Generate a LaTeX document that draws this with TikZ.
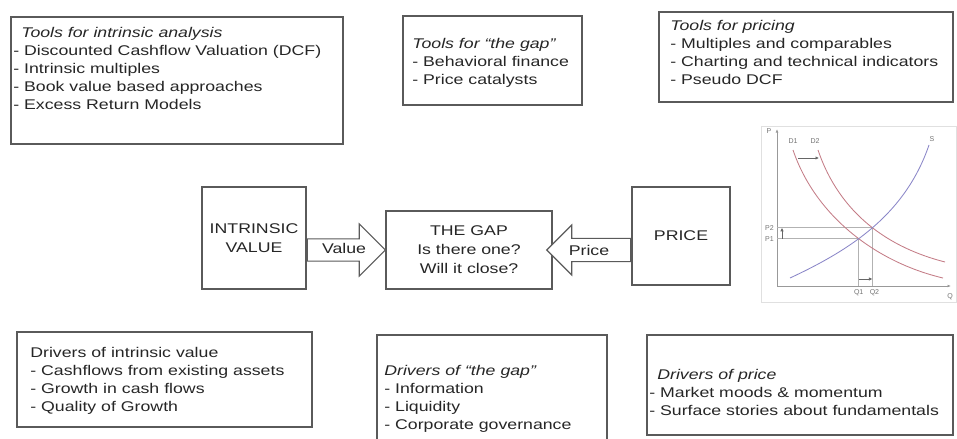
\documentclass[tikz,border=0pt]{standalone}
\usepackage{fontspec}
\setmainfont{Liberation Sans}
\usetikzlibrary{arrows.meta, shapes.arrows, intersections, calc}

\definecolor{boxline}{HTML}{5A5A5A}
\definecolor{textgray}{HTML}{262626}
\definecolor{demandred}{HTML}{C47C86}
\definecolor{supplyblue}{HTML}{8A86C8}

\tikzset{
	box/.style={shape=rectangle, draw=boxline, line width=1pt, inner sep=0pt},
	boxtext/.style={anchor=north west, align=left, inner sep=0pt, xscale=1.26, text=textgray, font=\fontsize{10}{12.8}\selectfont},
	bigtext/.style={align=center, inner sep=0pt, xscale=1.26, text=textgray, font=\fontsize{10}{13.5}\selectfont},
	blockarrow/.style={single arrow, draw=boxline, line width=0.8pt, fill=white, inner xsep=0pt, anchor=tail},
	chartlabel/.style={inner sep=0pt, text=black!55, font=\fontsize{5}{6}\selectfont},
	guide/.style={draw=black!30, line width=0.4pt},
	shiftarrow/.style={draw=black!60, line width=0.5pt, -{Latex[length=2.5pt, width=2.5pt]}},
}

\begin{document}
\begin{tikzpicture}[x=0.025cm, y=-0.025cm]
	\useasboundingbox[fill=white] (0, 0) rectangle (957, 439);
	\clip (0, 0) rectangle (957, 439);

	% Tools (top row):
	\node[box, minimum width=8.3cm, minimum height=3.175cm](ToolsIV) at (177, 80.5){};
	\node[boxtext](ToolsIVtxt) at (13, 27){\hspace*{4.5pt}\textit{Tools for intrinsic analysis}\\- Discounted Cashflow Valuation (DCF)\\- Intrinsic multiples\\- Book value based approaches\\- Excess Return Models};
	\node[box, minimum width=4.475cm, minimum height=2.225cm](ToolsGap) at (492.5, 60.5){};
	\node[boxtext](ToolsGaptxt) at (412, 38){\textit{Tools for “the gap”}\\- Behavioral finance\\- Price catalysts};
	\node[box, minimum width=7.35cm, minimum height=2.25cm](ToolsPrice) at (806, 57){};
	\node[boxtext](ToolsPricetxt) at (670, 20){\textit{Tools for pricing}\\- Multiples and comparables\\- Charting and technical indicators\\- Pseudo DCF};

	% Middle row:
	\node[box, minimum width=2.6cm, minimum height=2.55cm](IV) at (254, 238){};
	\node[bigtext](IVtxt) at (IV.center){INTRINSIC\\VALUE};
	\node[box, minimum width=4.15cm, minimum height=1.95cm](GAP) at (469, 250){};
	\node[bigtext](GAPtxt) at (GAP.center){THE GAP\\Is there one?\\Will it close?};
	\node[box, minimum width=2.45cm, minimum height=2.45cm](PRICE) at (681, 236){};
	\node[bigtext](PRICEtxt) at (PRICE.center){PRICE};
	\node[blockarrow, minimum height=1.95cm, inner ysep=0.2625cm, single arrow head extend=0.375cm](ValueArrow) at (IV.east |- GAP.west){};
	\node[blockarrow, rotate=180, minimum height=2.1cm, inner ysep=0.275cm, single arrow head extend=0.3375cm](PriceArrow) at (PRICE.west |- GAP.east){};
	\node[bigtext](ValueLbl) at (344, 248){Value};
	\node[bigtext](PriceLbl) at (589, 250){Price};

	% Supply and demand chart:
	\draw[draw=black!12, line width=0.6pt] (761, 126) rectangle (956, 302);
	\coordinate (O) at (777, 286);
	\draw[draw=black!40, line width=0.5pt, -{Latex[length=2.5pt, width=2pt]}] (O) -- (777, 129);
	\draw[draw=black!40, line width=0.5pt, -{Latex[length=2.5pt, width=2pt]}] (O) -- (951, 286);
	\node[chartlabel](Plbl) at (769, 131){P};
	\node[chartlabel](Qlbl) at (950, 297){Q};
	\path[name path=D1curve] (793, 150) .. controls (815, 215) and (875, 262) .. (943, 278);
	\path[name path=D2curve] (818, 150) .. controls (840, 215) and (890, 248) .. (945, 262);
	\path[name path=Scurve] (790, 278) .. controls (850, 250) and (905, 215) .. (929, 145);
	\path[name intersections={of=D1curve and Scurve, by=E1}];
	\path[name intersections={of=D2curve and Scurve, by=E2}];
	\draw[guide] (O |- E1) -- (E1) -- (E1 |- O);
	\draw[guide] (O |- E2) -- (E2) -- (E2 |- O);
	\draw[draw=demandred, line width=0.6pt] (793, 150) .. controls (815, 215) and (875, 262) .. (943, 278);
	\draw[draw=demandred, line width=0.6pt] (818, 150) .. controls (840, 215) and (890, 248) .. (945, 262);
	\draw[draw=supplyblue, line width=0.6pt] (790, 278) .. controls (850, 250) and (905, 215) .. (929, 145);
	\node[chartlabel](D1lbl) at (793, 141){D1};
	\node[chartlabel](D2lbl) at (815, 141){D2};
	\node[chartlabel](Slbl) at (932, 139){S};
	\node[chartlabel, anchor=east](P2lbl) at ($(O |- E2)+(-3, 0)$){P2};
	\node[chartlabel, anchor=east](P1lbl) at ($(O |- E1)+(-3, 0)$){P1};
	\node[chartlabel](Q1lbl) at ($(E1 |- O)+(0, 7)$){Q1};
	\node[chartlabel](Q2lbl) at ($(E2 |- O)+(2, 7)$){Q2};
	\draw[shiftarrow] (798, 158) -- (819, 158);
	\draw[shiftarrow] ($(O |- E1)+(5, 0)$) -- ($(O |- E2)+(5, 0)$);
	\draw[shiftarrow] ($(E1 |- O)+(0, -7)$) -- ($(E2 |- O)+(0, -7)$);

	% Drivers (bottom row):
	\node[box, minimum width=7.375cm, minimum height=2.375cm](DrvIV) at (164.5, 379.5){};
	\node[boxtext](DrvIVtxt) at (30, 347){Drivers of intrinsic value\\- Cashflows from existing assets\\- Growth in cash flows\\- Quality of Growth};
	\node[box, minimum width=5.75cm, minimum height=3.125cm](DrvGap) at (492, 397.5){};
	\node[boxtext](DrvGaptxt) at (384, 365){\textit{Drivers of “the gap”}\\- Information\\- Liquidity\\- Corporate governance};
	\node[box, minimum width=7.65cm, minimum height=2.5cm](DrvPrice) at (800, 385){};
	\node[boxtext](DrvPricetxt) at (649, 369){\hspace*{4.5pt}\textit{Drivers of price}\\- Market moods \& momentum\\- Surface stories about fundamentals};
\end{tikzpicture}
\end{document}
